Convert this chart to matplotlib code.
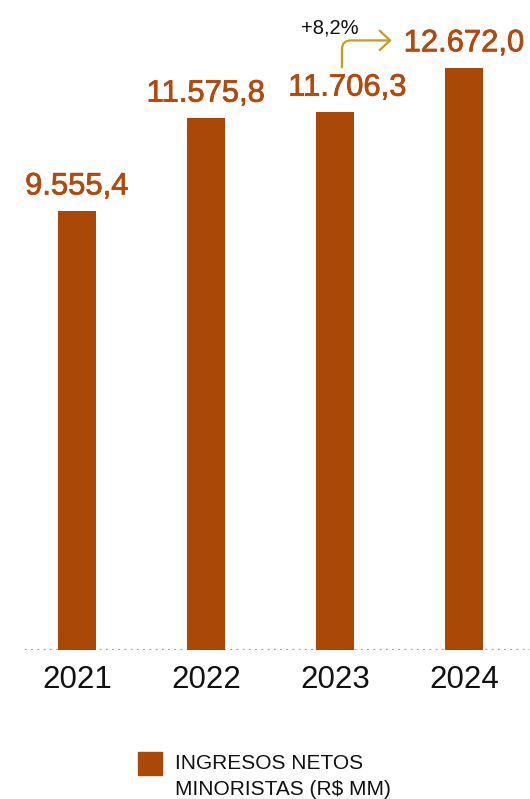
import matplotlib
matplotlib.use("Agg")
import matplotlib.pyplot as plt
import matplotlib.patheffects as pe
from matplotlib.patches import Rectangle

years = ["2021", "2022", "2023", "2024"]
ingresos = [9555.4, 11575.8, 11706.3, 12672.0]
value_labels = ["9.555,4", "11.575,8", "11.706,3", "12.672,0"]
growth_label = "+8,2%"
legend_lines = ["INGRESOS NETOS", "MINORISTAS (R$ MM)"]

bar_color = "#AA4808"
text_color = "#B04A0E"
arrow_color = "#CC9A1C"

plt.rcParams["font.family"] = ["Liberation Sans", "DejaVu Sans"]

fig = plt.figure(figsize=(5.3, 7.99), dpi=100)
ax = fig.add_axes([25 / 530, 149 / 799, 505 / 530, 650 / 799])

x = list(range(len(years)))
ax.bar(x, ingresos, width=0.295, color=bar_color, zorder=3)
ax.set_xlim(-0.403, 3.512)
ax.set_ylim(0, 14152)

# linea base punteada
ax.axhline(0, color="#9a9a9a", linestyle=(0, (0.8, 2.0)), linewidth=1.6,
           dash_capstyle="butt", zorder=2)

for s in ax.spines.values():
    s.set_visible(False)
ax.set_yticks([])
ax.set_xticks(x)
ax.set_xticklabels(years, fontsize=22.5, color="#111111")
ax.tick_params(axis="x", length=0, pad=11)

# etiquetas de valor
stroke = [pe.withStroke(linewidth=0.55, foreground=text_color)]
for i, (v, lab) in enumerate(zip(ingresos, value_labels)):
    dx = 9 if i == 2 else 0
    ax.annotate(lab, xy=(i, v), xytext=(dx, 12), textcoords="offset points",
                ha="center", va="baseline", fontsize=22.3,
                color=text_color, path_effects=stroke)

# flecha de crecimiento 2023 -> 2024
start = (2 + 0.054, ingresos[2] + 980)
end = (2.44, ingresos[3] + 600)
ax.annotate("", xy=end, xytext=start,
            arrowprops=dict(arrowstyle="->,head_length=0.75,head_width=0.7",
                            color=arrow_color, lw=1.6,
                            connectionstyle="angle,angleA=90,angleB=0,rad=9",
                            shrinkA=0, shrinkB=0))
ax.annotate(growth_label, xy=start, xytext=(-8.5, 28), textcoords="offset points",
            ha="center", va="center", fontsize=14.5, color="#111111")

# leyenda
fig.add_artist(Rectangle((138 / 530, 1 - 775 / 799), 24 / 530, 23 / 799,
                         transform=fig.transFigure, color=bar_color))
for k, line in enumerate(legend_lines):
    fig.text(175 / 530, 1 - (769 + 26 * k) / 799, line, fontsize=15,
             color="#111111", va="baseline", ha="left")

fig.savefig("out.png", dpi=100)
